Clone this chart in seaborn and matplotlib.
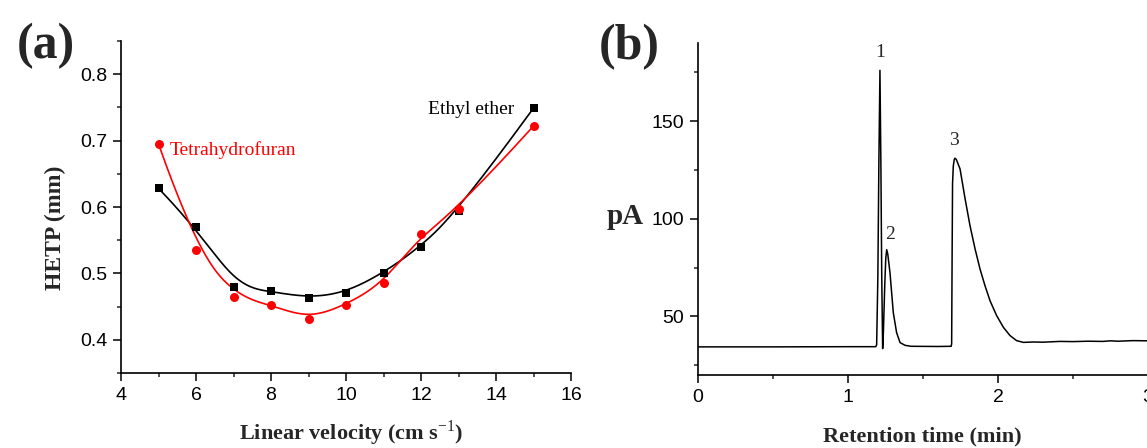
import numpy as np
import pandas as pd
import matplotlib
matplotlib.use("Agg")
import matplotlib.pyplot as plt
from matplotlib.ticker import MultipleLocator, FormatStrFormatter
import seaborn as sns

# ---------------- data ----------------
velocity = [5, 6, 7, 8, 9, 10, 11, 12, 13, 15]
hetp_ethyl_ether = [0.628, 0.570, 0.480, 0.473, 0.463, 0.471, 0.501, 0.540, 0.594, 0.749]
hetp_thf = [0.695, 0.535, 0.465, 0.453, 0.431, 0.453, 0.485, 0.560, 0.597, 0.722]

retention_time = [0.000, 0.500, 1.000, 1.185, 1.191, 1.199, 1.206, 1.213, 1.219, 1.225,
                  1.231, 1.236, 1.245, 1.252, 1.258, 1.265, 1.280, 1.302, 1.324, 1.347,
                  1.380, 1.420, 1.600, 1.688, 1.691, 1.694, 1.697, 1.702, 1.708, 1.713,
                  1.722, 1.747, 1.780, 1.813, 1.847, 1.880, 1.913, 1.947, 1.991, 2.036,
                  2.080, 2.124, 2.169, 2.236, 2.300, 2.413, 2.500, 2.600, 2.700, 2.750,
                  2.800, 2.900, 3.000]
signal_pA = [34.4, 34.4, 34.5, 34.5, 35.5, 70.0, 130.0, 176.0, 130.0, 70.0,
             33.5, 42.0, 66.0, 80.0, 84.2, 82.0, 72.3, 51.9, 41.7, 36.6,
             35.2, 34.7, 34.6, 34.7, 36.0, 80.0, 118.0, 127.0, 130.2, 131.0,
             130.4, 125.5, 110.5, 96.6, 84.6, 74.3, 65.8, 58.0, 50.4, 44.4,
             40.2, 37.6, 36.7, 36.9, 36.8, 37.2, 37.1, 37.3, 37.2, 37.5,
             37.3, 37.6, 37.5]

peak_labels = ["1", "2", "3"]
peak_label_x = [1.213, 1.280, 1.707]
peak_label_y = [185.0, 91.8, 140.3]


def bspline_curve(xs, ys, num=400, k=3):
    """Clamped uniform cubic B-spline using the data points as control points."""
    P = np.column_stack([xs, ys]).astype(float)
    m = len(P)
    knots = np.concatenate([np.zeros(k), np.arange(m - k + 1), np.full(k, m - k)]).astype(float)
    t = np.linspace(0, m - k, num)
    t[-1] -= 1e-9
    nb = len(knots) - 1
    N = np.zeros((num, nb))
    for i in range(nb):
        N[:, i] = ((knots[i] <= t) & (t < knots[i + 1])).astype(float)
    for p in range(1, k + 1):
        Nn = np.zeros((num, nb - p))
        for i in range(nb - p):
            d1 = knots[i + p] - knots[i]
            d2 = knots[i + p + 1] - knots[i + 1]
            a = (t - knots[i]) / d1 * N[:, i] if d1 > 0 else 0.0
            b = (knots[i + p + 1] - t) / d2 * N[:, i + 1] if d2 > 0 else 0.0
            Nn[:, i] = a + b
        N = Nn
    C = N @ P
    return C[:, 0], C[:, 1]


# ---------------- style ----------------
sns.set_style("ticks")
plt.rcParams["font.family"] = ["Liberation Sans", "DejaVu Sans"]
plt.rcParams["mathtext.fontset"] = "custom"
plt.rcParams["mathtext.rm"] = "Liberation Serif"
plt.rcParams["mathtext.bf"] = "Liberation Serif:bold"
plt.rcParams["axes.linewidth"] = 1.2
SERIF = ["Liberation Serif", "DejaVu Serif"]

W, H = 1147, 448
fig = plt.figure(figsize=(W / 100, H / 100), dpi=100)
fig.patch.set_facecolor("white")

ax_a = fig.add_axes([121 / W, (H - 373) / H, 450 / W, 332 / H])
ax_b = fig.add_axes([698 / W, (H - 375) / H, 450 / W, 332 / H])

# ---------------- panel (a) ----------------
cx, cy = bspline_curve(velocity, hetp_ethyl_ether)
sns.lineplot(x=cx, y=cy, ax=ax_a, color="black", lw=1.2, sort=False, estimator=None)
cx, cy = bspline_curve(velocity, hetp_thf)
sns.lineplot(x=cx, y=cy, ax=ax_a, color="#ff0000", lw=1.2, sort=False, estimator=None)
sns.scatterplot(x=velocity, y=hetp_ethyl_ether, ax=ax_a, marker="s", color="black",
                s=38, linewidth=0, zorder=3)
sns.scatterplot(x=velocity, y=hetp_thf, ax=ax_a, marker="o", color="#ff0000",
                s=42, linewidth=0, zorder=3)

ax_a.set_xlim(4, 16)
ax_a.set_ylim(0.35, 0.85)
ax_a.xaxis.set_major_locator(MultipleLocator(2))
ax_a.xaxis.set_minor_locator(MultipleLocator(1))
ax_a.yaxis.set_major_locator(MultipleLocator(0.1))
ax_a.yaxis.set_minor_locator(MultipleLocator(0.05))
ax_a.yaxis.set_major_formatter(FormatStrFormatter("%.1f"))
ax_a.set_yticks([0.4, 0.5, 0.6, 0.7, 0.8])

ax_a.text(12.19, 0.740, "Ethyl ether", family=SERIF, fontsize=14, color="black",
          ha="left", va="baseline")
ax_a.text(5.31, 0.678, "Tetrahydrofuran", family=SERIF, fontsize=14, color="#ff0000",
          ha="left", va="baseline")

ax_a.set_xlabel(r"Linear velocity (cm s$^{\mathrm{-1}}$)", family=SERIF,
                fontweight="bold", fontsize=16)
ax_a.set_ylabel("HETP (mm)", family=SERIF, fontweight="bold", fontsize=17)
ax_a.xaxis.set_label_coords((351 - 121) / 450, (373 - 433) / 332)
ax_a.xaxis.label.set_va("center")
ax_a.yaxis.set_label_coords((55 - 121) / 450, (373 - 228) / 332)
ax_a.yaxis.label.set_va("center")

# ---------------- panel (b) ----------------
sns.lineplot(x=retention_time, y=signal_pA, ax=ax_b, color="black", lw=1.1,
             sort=False, estimator=None)
for lab, lx, ly in zip(peak_labels, peak_label_x, peak_label_y):
    ax_b.text(lx, ly, lab, family=SERIF, fontsize=14, ha="center", va="center")

ax_b.set_xlim(0, 3)
ax_b.set_ylim(20, 190)
ax_b.xaxis.set_major_locator(MultipleLocator(1))
ax_b.xaxis.set_minor_locator(MultipleLocator(0.5))
ax_b.set_yticks([50, 100, 150])
ax_b.set_yticks([25, 75, 125, 175], minor=True)

ax_b.set_xlabel("Retention time (min)", family=SERIF, fontweight="bold", fontsize=16)
ax_b.set_ylabel("pA", family=SERIF, fontweight="bold", fontsize=21, rotation=0)
ax_b.xaxis.set_label_coords((922 - 698) / 450, (375 - 436) / 332)
ax_b.xaxis.label.set_va("center")
ax_b.yaxis.set_label_coords((625 - 698) / 450, (375 - 217) / 332)
ax_b.yaxis.label.set_va("center")
ax_b.yaxis.label.set_ha("center")

for ax in (ax_a, ax_b):
    sns.despine(ax=ax)
    ax.set_facecolor("white")
    ax.tick_params(axis="both", which="major", direction="out", length=6, width=1.1,
                   labelsize=14, pad=4, colors="black")
    ax.tick_params(axis="both", which="minor", direction="out", length=3, width=1.1)
    for lab in ax.get_xticklabels() + ax.get_yticklabels():
        lab.set_family(["Liberation Sans", "DejaVu Sans"])
    ax.spines["left"].set_color("black")
    ax.spines["bottom"].set_color("black")

fig.text(46 / W, 1 - 46 / H, "(a)", family=SERIF, fontweight="bold", fontsize=36,
         ha="center", va="center")
fig.text(629 / W, 1 - 47 / H, "(b)", family=SERIF, fontweight="bold", fontsize=36,
         ha="center", va="center")

fig.savefig("out.png", dpi=100, facecolor="white")
